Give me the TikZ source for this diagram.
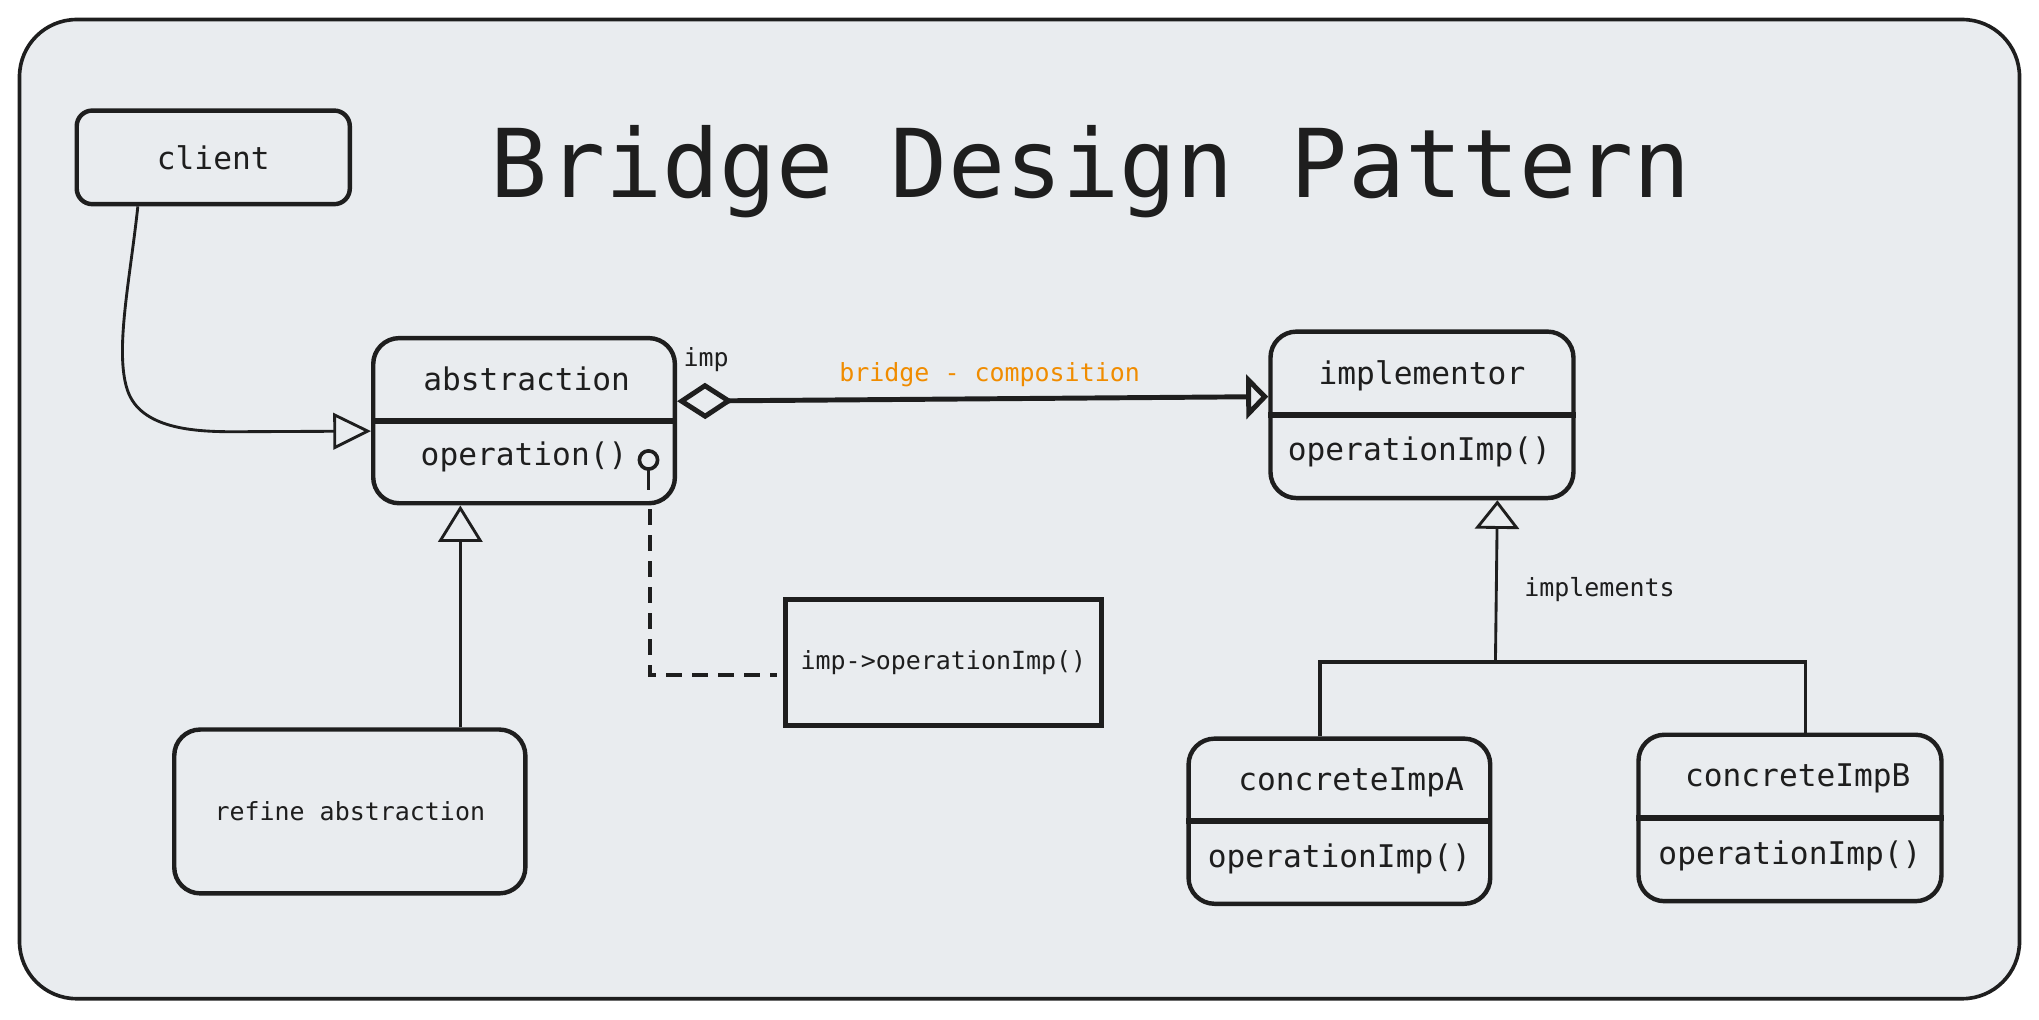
\documentclass[tikz,border=0pt]{standalone}
\usepackage{fontspec}
\newfontfamily\hand{DejaVu Sans Mono}
\usetikzlibrary{arrows.meta,calc}
\definecolor{bgc}{HTML}{E9ECEF}
\definecolor{ink}{HTML}{1E1E1E}
\definecolor{orng}{HTML}{F08C00}
\begin{document}
\begin{tikzpicture}[x=0.5pt,y=-0.5pt,
  box/.style={draw=ink, line width=1.7pt, rounded corners=10pt, fill=bgc, inner sep=0pt},
  classbox/.style={box, minimum width=116pt, minimum height=63.5pt},
  divider/.style={draw=ink, line width=2.2pt},
  lbl/.style={font=\hand\fontsize{12}{14}\selectfont, text=ink, inner sep=0pt},
  small/.style={font=\hand\fontsize{9.6}{11}\selectfont, text=ink, inner sep=0pt},
  conn/.style={draw=ink, line width=1.1pt},
  dashconn/.style={draw=ink, line width=1.6pt, dash pattern=on 6pt off 4pt}
]
\useasboundingbox (0,0) rectangle (1568,784);
\draw[draw=ink, line width=1.4pt, fill=bgc, rounded corners=22pt] (15,15) rectangle (1553,768);

% title
\node[font=\hand\fontsize{36.5}{40}\selectfont, text=ink, inner sep=0pt, anchor=base] (title) at (839,152) {Bridge Design Pattern};

% boxes
\node[box, rounded corners=6pt, minimum width=105pt, minimum height=36pt, lbl] (client) at (164,121) {client};
\node[classbox] (abs) at (403,323.5) {};
\node[box, minimum width=135pt, minimum height=63pt, small] (refine) at (269,624) {refine abstraction};
\node[box, rounded corners=0pt, minimum width=121.5pt, minimum height=48.5pt, small] (impbox) at (725.5,509.5) {imp->operationImp()};
\node[classbox, minimum width=116.5pt, minimum height=64pt] (impl) at (1093.5,319) {};
\node[classbox] (concA) at (1030,631.5) {};
\node[classbox, minimum width=116.5pt, minimum height=64pt] (concB) at (1376.5,629) {};

% dividers
\foreach \n in {abs,impl,concA,concB} { \draw[divider] (\n.west) -- (\n.east); }

% class labels
\node[lbl, anchor=base] (absT) at ($(abs.center)+(2,-23)$) {abstraction};
\node[lbl, anchor=base] (absO) at ($(abs.center)+(0,34.5)$) {operation()};
\node[lbl, anchor=base] (implT) at ($(impl.center)+(0,-23)$) {implementor};
\node[lbl, anchor=base] (implO) at ($(impl.center)+(-2,35)$) {operationImp()};
\node[lbl, anchor=base] (concAT) at ($(concA.center)+(9,-24)$) {concreteImpA};
\node[lbl, anchor=base] (concAO) at ($(concA.center)+(0,35.5)$) {operationImp()};
\node[lbl, anchor=base] (concBT) at ($(concB.center)+(6,-24)$) {concreteImpB};
\node[lbl, anchor=base] (concBO) at ($(concB.center)+(0,35.5)$) {operationImp()};

% client -> abstraction
\draw[conn, -{Triangle[open, length=14.5pt, width=14pt]}]
  ($(client.south)+(-58,0)$) .. controls (100,215) and (88,270) .. (98,300)
  .. controls (108,330) and (150,332) .. (180,332) -- ($(abs.west)+(0,8)$);

% refine -> abstraction
\draw[conn, -{Triangle[open, length=14pt, width=17pt]}]
  ($(refine.north)+(85,0)$) -- ($(abs.south)+(-49,0)$);

% bridge composition
\draw[draw=ink, line width=1.9pt, {Diamond[open, length=21.5pt, width=14pt]}-{Triangle[open, length=8.5pt, width=17pt]}]
  ($(abs.east)+(0,-15)$) -- ($(impl.west)+(0,-14)$);
\node[small, anchor=base] (impL) at (543,282) {imp};
\node[small, anchor=base, text=orng] (bridgeL) at (761,293) {bridge - composition};

% lollipop and dashed note link
\draw[draw=ink, line width=1.4pt] ($(abs.south east)+(-22,-35)$) circle[radius=3.5pt];
\draw[draw=ink, line width=1.4pt] ($(abs.south east)+(-22,-28)$) -- ($(abs.south east)+(-22,-12)$);
\draw[dashconn] ($(abs.south east)+(-21,3)$) |- ($(impbox.west)+(-5,9.5)$);

% implements tree
\coordinate (bar) at (1150,509);
\draw[conn, line width=1.3pt] ($(concA.north)+(-15,0)$) |- (bar) -| ($(concB.north)+(12,0)$);
\draw[conn, -{Triangle[open, length=11pt, width=17pt]}] (bar) -- ($(impl.south)+(58,0)$);
\node[small, anchor=base] (implsL) at (1230,459) {implements};
\end{tikzpicture}
\end{document}
